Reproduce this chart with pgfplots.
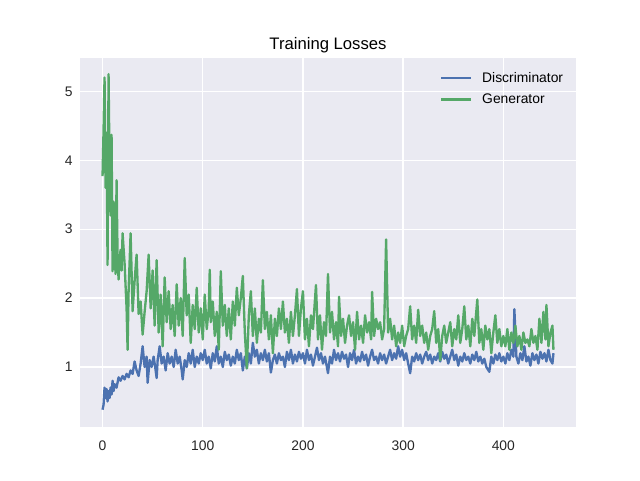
\documentclass[border=0pt]{standalone}
\usepackage{pgfplots}
\pgfplotsset{compat=1.18}
\usepackage{fontspec}
\setmainfont{Liberation Sans}
\definecolor{sbbg}{HTML}{EAEAF2}
\definecolor{sbblue}{HTML}{4C72B0}
\definecolor{sbgreen}{HTML}{55A868}
\begin{document}
\begin{tikzpicture}
\useasboundingbox (-60pt,-39.6pt) rectangle (420pt,320.4pt);
\begin{axis}[
  at={(0pt,0pt)}, anchor=south west,
  scale only axis, width=372pt, height=277.2pt,
  xmin=-22.5, xmax=472.5, ymin=0.126, ymax=5.49,
  xtick={0,100,200,300,400}, ytick={1,2,3,4,5},
  axis background/.style={fill=sbbg},
  axis line style={draw=none},
  major tick length=0pt,
  grid=major, grid style={white, line width=1pt},
  tick label style={font=\fontsize{10.4}{12}\selectfont, text=black!85},
  /pgf/number format/assume math mode=true,
  xticklabel style={yshift=-7pt},
  yticklabel style={xshift=-2pt},
  title={Training Losses},
  title style={font=\fontsize{12.5}{14}\selectfont, yshift=-5.75pt},
  legend style={draw=none, fill=none, at={(0.988,0.976)}, anchor=north east,
    font=\fontsize{10.4}{12}\selectfont, row sep=3.25pt, cells={anchor=west}},
  legend image code/.code={\draw[#1] (0pt,0pt) -- (22.5pt,0pt); \path (28pt,0pt);},
  legend cell align=left,
]
\addplot[sbblue, line width=1.75pt, line join=round] coordinates {
(0,0.38)(1,0.45)(2,0.70)(3,0.55)(4,0.68)(5,0.50)(6,0.65)(7,0.55)(8,0.70)(9,0.60)
(10,0.80)(11,0.65)(12,0.75)(14,0.70)(16,0.85)(18,0.80)(20,0.87)(22,0.82)(24,0.90)(26,0.85)
(28,0.95)(30,0.90)(32,1.08)(34,0.95)(36,0.87)(38,1.05)(40,1.30)(42,1.00)(44,1.15)(45,0.77)
(47,1.10)(49,1.00)(51,1.15)(53,0.95)(54,0.84)(55,1.10)(57,1.30)(59,1.05)(61,1.15)(63,0.95)
(65,1.20)(67,1.05)(69,1.15)(71,1.00)(73,1.25)(75,1.05)(77,1.15)(79,0.95)(80,0.82)(82,1.10)
(84,1.00)(86,1.20)(88,1.05)(90,1.25)(92,1.00)(94,1.15)(96,1.05)(98,1.20)
(100,1.10)(102,1.25)(104,1.05)(106,1.15)(108,0.98)(110,1.20)(112,1.08)(114,1.30)(116,1.05)(118,1.15)
(120,1.00)(122,1.22)(124,1.10)(126,1.18)(128,1.02)(130,1.15)(132,1.05)(134,1.25)(136,1.10)(138,1.20)
(140,0.95)(142,1.15)(144,0.98)(146,1.20)(148,1.05)(150,1.35)(152,1.15)(154,1.25)(156,1.05)(158,1.20)
(160,1.10)(162,1.25)(164,1.08)(166,1.20)(168,0.92)(170,1.10)(172,1.18)(174,1.05)(176,1.20)(178,1.10)
(180,1.15)(182,1.00)(184,1.22)(186,1.10)(188,1.25)(190,1.05)(192,1.18)(194,1.08)(196,1.22)(198,1.12)
(200,1.20)(202,1.05)(204,1.25)(206,1.10)(208,1.18)(210,1.02)(212,1.15)(214,1.28)(216,1.10)(218,1.20)
(220,1.05)(222,1.15)(225,0.91)(227,1.15)(229,1.05)(231,1.25)(233,1.10)(235,1.20)(237,1.08)(239,1.22)
(241,1.12)(243,1.18)(245,1.00)(247,1.20)(249,1.10)(251,1.25)(253,1.05)(255,1.15)(257,1.08)(259,1.22)
(261,1.10)(263,1.18)(265,1.02)(267,1.15)(269,1.25)(271,1.10)(273,1.15)(275,1.05)(277,1.20)(279,1.10)
(281,1.18)(283,1.05)(285,1.15)(287,1.25)(289,1.10)(291,1.20)(293,1.12)(295,1.30)(297,1.15)(299,1.25)
(301,1.10)(303,1.20)(305,1.05)(307,0.91)(309,1.15)(311,1.08)(313,1.20)(315,1.10)(317,1.18)(319,1.05)
(321,1.15)(323,1.22)(325,1.10)(327,1.18)(329,1.05)(331,1.15)(333,1.10)(335,1.20)(337,1.08)(339,1.22)
(341,1.12)(343,1.18)(345,1.05)(347,1.15)(349,1.25)(351,1.10)(353,1.18)(355,1.02)(357,1.15)(359,1.08)
(361,1.20)(363,1.10)(365,1.15)(367,1.05)(369,1.18)(371,1.10)(373,1.22)(375,1.08)(377,1.15)(379,1.05)
(381,1.12)(383,1.00)(386,0.93)(388,1.15)(390,1.05)(392,1.18)(394,1.10)(396,1.20)(398,1.08)(400,1.15)
(402,1.05)(404,1.20)(406,1.10)(408,1.25)(410,1.15)(411,1.84)(413,1.15)(415,1.05)(417,1.20)(419,1.10)
(421,1.30)(423,1.08)(425,1.15)(427,1.02)(429,1.20)(431,1.10)(433,1.18)(435,1.05)(437,1.22)(439,1.12)
(441,1.20)(443,1.08)(445,1.25)(447,1.10)(449,1.05)(450,1.20)
};
\addlegendentry{Discriminator}
\addplot[sbgreen, line width=1.75pt, line join=round] coordinates {
(0,3.77)(1,4.43)(2,5.20)(3,3.60)(4,4.40)(5,2.48)(6,5.25)(7,3.90)(8,3.20)(9,4.37)
(10,2.39)(11,3.40)(12,2.70)(13,2.35)(14,3.71)(15,2.60)(16,2.27)(17,2.55)(18,2.70)(19,2.40)
(20,2.94)(22,2.50)(24,1.85)(25,1.25)(26,2.10)(28,2.94)(30,1.81)(32,2.25)(34,2.63)(36,1.77)
(38,1.95)(40,1.47)(42,1.80)(44,2.10)(46,2.63)(48,1.85)(50,2.40)(52,1.60)(54,2.55)(56,1.50)
(58,2.05)(60,1.30)(62,2.30)(64,1.65)(66,2.10)(68,1.55)(70,1.90)(72,1.45)(74,2.20)(76,1.60)
(78,2.00)(80,1.45)(82,2.58)(84,1.75)(86,2.05)(88,1.35)(90,1.90)(92,1.55)(94,2.15)(96,1.50)
(98,1.85)(100,1.40)(102,2.05)(104,1.55)(106,1.85)(107,2.41)(108,1.65)(110,1.95)(112,1.45)(114,1.80)
(116,1.25)(118,2.39)(120,1.60)(122,1.90)(124,1.45)(126,1.85)(128,1.40)(130,1.95)(132,1.60)(134,2.15)
(136,1.75)(138,2.00)(140,2.32)(142,1.50)(144,0.98)(146,1.75)(148,2.10)(150,1.45)(152,1.85)(154,1.35)
(156,1.70)(158,1.50)(160,2.26)(162,1.55)(164,1.80)(166,1.40)(168,1.75)(170,1.20)(172,1.70)(174,1.45)
(176,1.85)(178,1.55)(180,1.95)(182,1.50)(184,1.70)(186,1.35)(188,1.80)(190,1.45)(192,1.75)(194,2.13)
(196,1.45)(198,1.85)(200,2.10)(202,1.40)(204,1.70)(206,1.30)(208,1.75)(210,1.55)(213,2.19)(215,1.40)
(217,1.75)(219,1.25)(221,1.65)(223,1.45)(225,2.35)(227,1.50)(229,1.80)(231,1.40)(233,1.65)(235,1.30)
(236,2.02)(238,1.45)(240,1.70)(242,1.35)(244,1.60)(246,1.75)(248,1.45)(250,1.65)(252,1.25)(254,1.80)
(256,1.40)(258,1.60)(260,1.35)(262,1.75)(264,1.50)(266,1.65)(268,1.40)(269,2.09)(271,1.45)(273,1.70)
(275,1.55)(277,1.65)(279,1.40)(281,1.55)(283,2.85)(285,1.50)(287,1.70)(289,1.40)(291,1.60)(293,1.30)
(295,1.50)(297,1.35)(299,1.60)(301,1.30)(303,1.45)(305,1.55)(307,1.88)(309,1.40)(311,1.60)(313,1.35)
(315,1.83)(317,1.45)(319,1.60)(321,1.35)(323,1.50)(325,1.25)(327,1.45)(329,1.55)(331,1.81)(333,1.35)
(335,1.55)(337,1.10)(339,1.45)(341,1.60)(343,1.35)(345,1.50)(347,1.65)(349,1.30)(351,1.55)(353,1.40)
(355,1.75)(357,1.35)(359,1.55)(361,1.88)(363,1.40)(365,1.60)(367,1.30)(369,1.70)(371,1.45)(374,1.98)
(376,1.35)(378,1.55)(380,1.25)(382,1.60)(384,1.40)(386,1.55)(388,1.20)(390,1.50)(392,1.75)(394,1.35)
(396,1.55)(398,1.30)(400,1.45)(402,1.30)(404,1.55)(406,1.25)(408,1.50)(410,1.35)(412,1.60)(414,1.30)
(416,1.45)(418,1.25)(420,1.50)(422,1.35)(424,1.40)(426,1.30)(428,1.55)(430,1.35)(432,1.45)(434,1.25)
(436,1.70)(438,1.35)(440,1.80)(442,1.40)(443,1.90)(445,1.30)(447,1.50)(449,1.60)(450,1.25)
};
\addlegendentry{Generator}
\end{axis}
\end{tikzpicture}
\end{document}
